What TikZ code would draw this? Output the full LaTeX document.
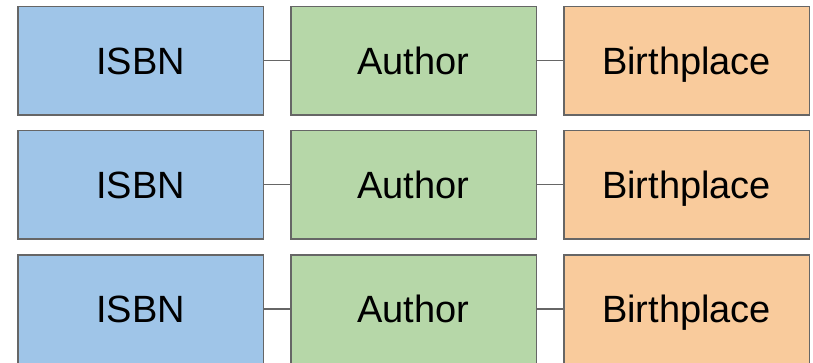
\documentclass[tikz,border=0pt]{standalone}
\usepackage{fontspec}
\setmainfont{Liberation Sans}
\definecolor{cblue}{HTML}{9FC5E8}
\definecolor{cgreen}{HTML}{B6D7A8}
\definecolor{corange}{HTML}{F9CB9C}
\definecolor{cborder}{HTML}{666666}
\begin{document}
\begin{tikzpicture}[x=1pt,y=-1pt,
  cell/.style={draw=cborder,line width=1.5pt,minimum width=245.5pt,minimum height=108.5pt,inner sep=0pt,text height=27.2pt,text depth=0pt,font=\fontsize{38}{44}\selectfont,anchor=north west},
  link/.style={draw=cborder,line width=1.5pt}]
\useasboundingbox (0,0) rectangle (813,362);
\foreach \r/\y in {1/5.5,2/129.5,3/254}{
  \node[cell,fill=cblue] (i\r) at (17,\y) {ISBN};
  \node[cell,fill=cgreen] (a\r) at (290,\y) {Author};
  \node[cell,fill=corange] (b\r) at (563,\y) {Birthplace};
  \draw[link] (i\r.east) -- (a\r.west);
  \draw[link] (a\r.east) -- (b\r.west);
}
\end{tikzpicture}
\end{document}
